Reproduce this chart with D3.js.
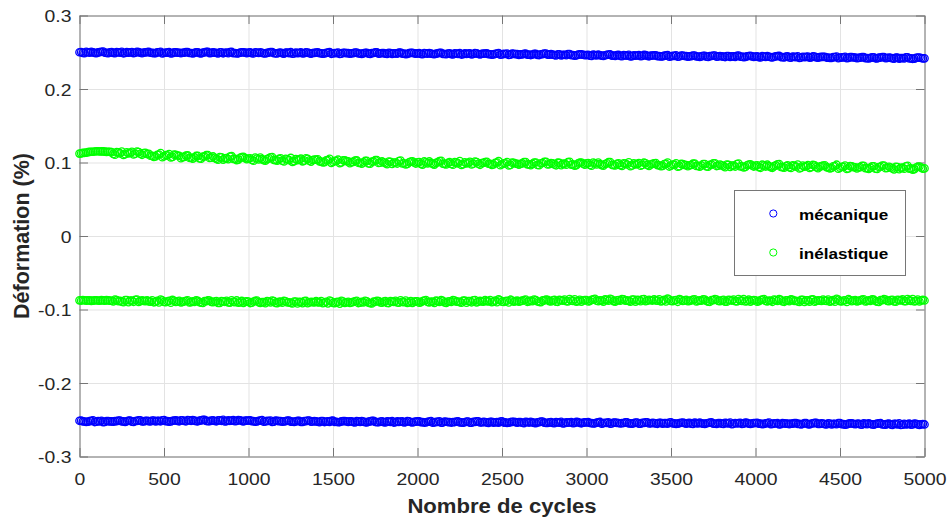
<!DOCTYPE html>
<html><head><meta charset="utf-8">
<script src="https://cdn.jsdelivr.net/npm/d3@7"></script>
<style>
body{margin:0;background:#fff;}
svg{display:block;font-family:"Liberation Sans",Arial,Helvetica,sans-serif;}
</style>
</head><body>
<svg id="chart" width="951" height="522"></svg>
<script>
// sampling interval (cycles) of the logged values
const cycleStep = 10;

// mécanique – maximum of each cycle (%)
const mecaMax = [
0.2500,0.2502,0.2492,0.2488,0.2505,0.2500,0.2495,0.2505,0.2497,0.2491,0.2488,0.2497,0.2501,0.2507,0.2508,0.2493,0.2491,0.2489,0.2498,0.2501,
0.2492,0.2488,0.2502,0.2500,0.2495,0.2507,0.2486,0.2490,0.2501,0.2495,0.2498,0.2503,0.2489,0.2493,0.2505,0.2502,0.2493,0.2487,0.2496,0.2498,
0.2502,0.2504,0.2493,0.2492,0.2487,0.2489,0.2498,0.2500,0.2507,0.2485,0.2490,0.2496,0.2495,0.2502,0.2484,0.2487,0.2499,0.2498,0.2494,0.2493,
0.2488,0.2493,0.2495,0.2502,0.2503,0.2490,0.2490,0.2485,0.2492,0.2500,0.2500,0.2487,0.2485,0.2496,0.2497,0.2504,0.2504,0.2489,0.2491,0.2497,
0.2495,0.2490,0.2485,0.2499,0.2498,0.2486,0.2493,0.2494,0.2488,0.2502,0.2504,0.2489,0.2490,0.2483,0.2486,0.2495,0.2499,0.2500,0.2494,0.2488,
0.2495,0.2497,0.2487,0.2483,0.2500,0.2495,0.2490,0.2500,0.2492,0.2486,0.2483,0.2492,0.2496,0.2502,0.2503,0.2488,0.2486,0.2484,0.2493,0.2496,
0.2486,0.2482,0.2496,0.2494,0.2489,0.2501,0.2480,0.2484,0.2495,0.2489,0.2492,0.2497,0.2483,0.2487,0.2499,0.2496,0.2487,0.2481,0.2490,0.2492,
0.2496,0.2498,0.2487,0.2486,0.2481,0.2483,0.2492,0.2494,0.2501,0.2479,0.2484,0.2490,0.2489,0.2496,0.2478,0.2481,0.2493,0.2492,0.2488,0.2487,
0.2481,0.2486,0.2488,0.2495,0.2496,0.2483,0.2483,0.2478,0.2485,0.2493,0.2493,0.2480,0.2478,0.2489,0.2490,0.2497,0.2497,0.2482,0.2484,0.2490,
0.2487,0.2482,0.2477,0.2491,0.2490,0.2478,0.2485,0.2486,0.2480,0.2494,0.2496,0.2481,0.2482,0.2475,0.2478,0.2487,0.2491,0.2492,0.2486,0.2480,
0.2485,0.2487,0.2477,0.2473,0.2490,0.2485,0.2480,0.2490,0.2482,0.2476,0.2473,0.2482,0.2486,0.2492,0.2493,0.2478,0.2476,0.2474,0.2483,0.2486,
0.2475,0.2471,0.2485,0.2483,0.2478,0.2490,0.2469,0.2473,0.2484,0.2478,0.2481,0.2486,0.2472,0.2476,0.2488,0.2485,0.2476,0.2470,0.2479,0.2481,
0.2483,0.2485,0.2474,0.2473,0.2468,0.2470,0.2479,0.2481,0.2488,0.2466,0.2471,0.2477,0.2476,0.2483,0.2465,0.2468,0.2480,0.2479,0.2475,0.2474,
0.2465,0.2470,0.2472,0.2479,0.2480,0.2467,0.2467,0.2462,0.2469,0.2477,0.2477,0.2464,0.2462,0.2473,0.2474,0.2481,0.2481,0.2466,0.2468,0.2474,
0.2467,0.2462,0.2457,0.2471,0.2470,0.2458,0.2465,0.2466,0.2460,0.2474,0.2476,0.2461,0.2462,0.2455,0.2458,0.2467,0.2471,0.2472,0.2466,0.2460,
0.2462,0.2464,0.2454,0.2450,0.2467,0.2462,0.2457,0.2467,0.2459,0.2453,0.2450,0.2459,0.2463,0.2469,0.2470,0.2455,0.2453,0.2451,0.2460,0.2463,
0.2450,0.2446,0.2460,0.2458,0.2453,0.2465,0.2444,0.2448,0.2459,0.2453,0.2456,0.2461,0.2447,0.2451,0.2463,0.2460,0.2451,0.2445,0.2454,0.2456,
0.2457,0.2459,0.2448,0.2447,0.2442,0.2444,0.2453,0.2455,0.2462,0.2440,0.2445,0.2451,0.2450,0.2457,0.2439,0.2442,0.2454,0.2453,0.2449,0.2448,
0.2440,0.2445,0.2447,0.2454,0.2455,0.2442,0.2442,0.2437,0.2444,0.2452,0.2452,0.2439,0.2437,0.2448,0.2449,0.2456,0.2456,0.2441,0.2443,0.2449,
0.2445,0.2440,0.2435,0.2449,0.2448,0.2436,0.2443,0.2444,0.2438,0.2452,0.2454,0.2439,0.2440,0.2433,0.2436,0.2445,0.2449,0.2450,0.2444,0.2438,
0.2442,0.2444,0.2434,0.2430,0.2447,0.2442,0.2437,0.2447,0.2439,0.2433,0.2430,0.2439,0.2443,0.2449,0.2450,0.2435,0.2433,0.2431,0.2440,0.2443,
0.2430,0.2426,0.2440,0.2438,0.2433,0.2445,0.2424,0.2428,0.2439,0.2433,0.2436,0.2441,0.2427,0.2431,0.2443,0.2440,0.2431,0.2425,0.2434,0.2436,
0.2437,0.2439,0.2428,0.2427,0.2422,0.2424,0.2433,0.2435,0.2442,0.2420,0.2425,0.2431,0.2430,0.2437,0.2419,0.2422,0.2434,0.2433,0.2429,0.2428,
0.2419,0.2424,0.2426,0.2433,0.2434,0.2421,0.2421,0.2416,0.2423,0.2431,0.2431,0.2418,0.2416,0.2427,0.2428,0.2435,0.2435,0.2420,0.2422,0.2428,
0.2423,0.2418,0.2413,0.2427,0.2426,0.2414,0.2421,0.2422,0.2416,0.2430,0.2432,0.2417,0.2418,0.2411,0.2414,0.2423,0.2427,0.2428,0.2422,0.2416,
0.2417];

// mécanique – minimum of each cycle (%)
const mecaMin = [
-0.2514,-0.2512,-0.2523,-0.2524,-0.2529,-0.2527,-0.2518,-0.2516,-0.2509,-0.2531,-0.2526,-0.2520,-0.2521,-0.2514,-0.2532,-0.2529,-0.2517,-0.2518,-0.2522,-0.2523,
-0.2525,-0.2520,-0.2518,-0.2511,-0.2510,-0.2523,-0.2523,-0.2528,-0.2521,-0.2513,-0.2513,-0.2526,-0.2528,-0.2517,-0.2516,-0.2509,-0.2509,-0.2524,-0.2522,-0.2516,
-0.2514,-0.2519,-0.2524,-0.2510,-0.2511,-0.2523,-0.2516,-0.2515,-0.2521,-0.2507,-0.2505,-0.2520,-0.2519,-0.2526,-0.2523,-0.2514,-0.2510,-0.2509,-0.2515,-0.2521,
-0.2509,-0.2507,-0.2517,-0.2521,-0.2504,-0.2509,-0.2514,-0.2504,-0.2512,-0.2518,-0.2521,-0.2512,-0.2508,-0.2502,-0.2501,-0.2516,-0.2518,-0.2520,-0.2511,-0.2508,
-0.2517,-0.2521,-0.2507,-0.2509,-0.2514,-0.2502,-0.2523,-0.2519,-0.2508,-0.2514,-0.2511,-0.2506,-0.2520,-0.2516,-0.2504,-0.2507,-0.2516,-0.2522,-0.2513,-0.2511,
-0.2510,-0.2508,-0.2519,-0.2520,-0.2525,-0.2523,-0.2514,-0.2512,-0.2505,-0.2527,-0.2522,-0.2516,-0.2517,-0.2510,-0.2528,-0.2525,-0.2513,-0.2514,-0.2518,-0.2519,
-0.2527,-0.2522,-0.2520,-0.2513,-0.2512,-0.2525,-0.2525,-0.2530,-0.2523,-0.2515,-0.2515,-0.2528,-0.2530,-0.2519,-0.2518,-0.2511,-0.2511,-0.2526,-0.2524,-0.2518,
-0.2522,-0.2527,-0.2532,-0.2518,-0.2519,-0.2531,-0.2524,-0.2523,-0.2529,-0.2515,-0.2513,-0.2528,-0.2527,-0.2534,-0.2531,-0.2522,-0.2518,-0.2517,-0.2523,-0.2529,
-0.2523,-0.2521,-0.2531,-0.2535,-0.2518,-0.2523,-0.2528,-0.2518,-0.2526,-0.2532,-0.2535,-0.2526,-0.2522,-0.2516,-0.2515,-0.2530,-0.2532,-0.2534,-0.2525,-0.2522,
-0.2532,-0.2536,-0.2522,-0.2524,-0.2529,-0.2517,-0.2538,-0.2534,-0.2523,-0.2529,-0.2526,-0.2521,-0.2535,-0.2531,-0.2519,-0.2522,-0.2531,-0.2537,-0.2528,-0.2526,
-0.2523,-0.2521,-0.2532,-0.2533,-0.2538,-0.2536,-0.2527,-0.2525,-0.2518,-0.2540,-0.2535,-0.2529,-0.2530,-0.2523,-0.2541,-0.2538,-0.2526,-0.2527,-0.2531,-0.2532,
-0.2538,-0.2533,-0.2531,-0.2524,-0.2523,-0.2536,-0.2536,-0.2541,-0.2534,-0.2526,-0.2526,-0.2539,-0.2541,-0.2530,-0.2529,-0.2522,-0.2522,-0.2537,-0.2535,-0.2529,
-0.2532,-0.2537,-0.2542,-0.2528,-0.2529,-0.2541,-0.2534,-0.2533,-0.2539,-0.2525,-0.2523,-0.2538,-0.2537,-0.2544,-0.2541,-0.2532,-0.2528,-0.2527,-0.2533,-0.2539,
-0.2533,-0.2531,-0.2541,-0.2545,-0.2528,-0.2533,-0.2538,-0.2528,-0.2536,-0.2542,-0.2545,-0.2536,-0.2532,-0.2526,-0.2525,-0.2540,-0.2542,-0.2544,-0.2535,-0.2532,
-0.2543,-0.2547,-0.2533,-0.2535,-0.2540,-0.2528,-0.2549,-0.2545,-0.2534,-0.2540,-0.2537,-0.2532,-0.2546,-0.2542,-0.2530,-0.2533,-0.2542,-0.2548,-0.2539,-0.2537,
-0.2535,-0.2533,-0.2544,-0.2545,-0.2550,-0.2548,-0.2539,-0.2537,-0.2530,-0.2552,-0.2547,-0.2541,-0.2542,-0.2535,-0.2553,-0.2550,-0.2538,-0.2539,-0.2543,-0.2544,
-0.2551,-0.2546,-0.2544,-0.2537,-0.2536,-0.2549,-0.2549,-0.2554,-0.2547,-0.2539,-0.2539,-0.2552,-0.2554,-0.2543,-0.2542,-0.2535,-0.2535,-0.2550,-0.2548,-0.2542,
-0.2545,-0.2550,-0.2555,-0.2541,-0.2542,-0.2554,-0.2547,-0.2546,-0.2552,-0.2538,-0.2536,-0.2551,-0.2550,-0.2557,-0.2554,-0.2545,-0.2541,-0.2540,-0.2546,-0.2552,
-0.2545,-0.2543,-0.2553,-0.2557,-0.2540,-0.2545,-0.2550,-0.2540,-0.2548,-0.2554,-0.2557,-0.2548,-0.2544,-0.2538,-0.2537,-0.2552,-0.2554,-0.2556,-0.2547,-0.2544,
-0.2553,-0.2557,-0.2543,-0.2545,-0.2550,-0.2538,-0.2559,-0.2555,-0.2544,-0.2550,-0.2547,-0.2542,-0.2556,-0.2552,-0.2540,-0.2543,-0.2552,-0.2558,-0.2549,-0.2547,
-0.2544,-0.2542,-0.2553,-0.2554,-0.2559,-0.2557,-0.2548,-0.2546,-0.2539,-0.2561,-0.2556,-0.2550,-0.2551,-0.2544,-0.2562,-0.2559,-0.2547,-0.2548,-0.2552,-0.2553,
-0.2559,-0.2554,-0.2552,-0.2545,-0.2544,-0.2557,-0.2557,-0.2562,-0.2555,-0.2547,-0.2547,-0.2560,-0.2562,-0.2551,-0.2550,-0.2543,-0.2543,-0.2558,-0.2556,-0.2550,
-0.2554,-0.2559,-0.2564,-0.2550,-0.2551,-0.2563,-0.2556,-0.2555,-0.2561,-0.2547,-0.2545,-0.2560,-0.2559,-0.2566,-0.2563,-0.2554,-0.2550,-0.2549,-0.2555,-0.2561,
-0.2555,-0.2553,-0.2563,-0.2567,-0.2550,-0.2555,-0.2560,-0.2550,-0.2558,-0.2564,-0.2567,-0.2558,-0.2554,-0.2548,-0.2547,-0.2562,-0.2564,-0.2566,-0.2557,-0.2554,
-0.2565,-0.2569,-0.2555,-0.2557,-0.2562,-0.2550,-0.2571,-0.2567,-0.2556,-0.2562,-0.2559,-0.2554,-0.2568,-0.2564,-0.2552,-0.2555,-0.2564,-0.2570,-0.2561,-0.2559,
-0.2564];

// inélastique – maximum of each cycle (%)
const inelMax = [
0.1121,0.1125,0.1130,0.1132,0.1134,0.1140,0.1145,0.1146,0.1146,0.1150,0.1153,0.1153,0.1150,0.1151,0.1152,0.1148,0.1144,0.1146,0.1145,0.1141,
0.1117,0.1107,0.1142,0.1137,0.1125,0.1148,0.1102,0.1112,0.1139,0.1125,0.1132,0.1145,0.1109,0.1119,0.1149,0.1142,0.1119,0.1105,0.1127,0.1132,
0.1115,0.1119,0.1092,0.1089,0.1077,0.1082,0.1105,0.1109,0.1127,0.1072,0.1085,0.1099,0.1097,0.1115,0.1069,0.1077,0.1107,0.1105,0.1095,0.1092,
0.1059,0.1072,0.1076,0.1094,0.1096,0.1064,0.1064,0.1052,0.1069,0.1089,0.1089,0.1056,0.1052,0.1079,0.1082,0.1099,0.1099,0.1062,0.1066,0.1082,
0.1063,0.1050,0.1038,0.1073,0.1070,0.1040,0.1058,0.1060,0.1046,0.1080,0.1086,0.1048,0.1050,0.1033,0.1040,0.1063,0.1073,0.1076,0.1060,0.1046,
0.1054,0.1058,0.1034,0.1024,0.1066,0.1054,0.1041,0.1066,0.1046,0.1031,0.1024,0.1046,0.1056,0.1071,0.1074,0.1036,0.1031,0.1026,0.1048,0.1056,
0.1024,0.1014,0.1049,0.1044,0.1032,0.1062,0.1009,0.1019,0.1046,0.1032,0.1039,0.1052,0.1016,0.1026,0.1056,0.1049,0.1026,0.1012,0.1034,0.1039,
0.1038,0.1042,0.1015,0.1012,0.1000,0.1005,0.1028,0.1032,0.1050,0.0995,0.1008,0.1022,0.1020,0.1038,0.0992,0.1000,0.1030,0.1028,0.1018,0.1015,
0.0991,0.1004,0.1008,0.1026,0.1028,0.0996,0.0996,0.0984,0.1001,0.1021,0.1021,0.0988,0.0984,0.1011,0.1014,0.1031,0.1031,0.0994,0.0998,0.1014,
0.1003,0.0990,0.0978,0.1013,0.1010,0.0980,0.0998,0.1000,0.0986,0.1020,0.1026,0.0988,0.0990,0.0973,0.0980,0.1003,0.1013,0.1016,0.1000,0.0986,
0.1002,0.1006,0.0982,0.0972,0.1014,0.1002,0.0989,0.1014,0.0994,0.0979,0.0972,0.0994,0.1004,0.1019,0.1022,0.0984,0.0979,0.0974,0.0996,0.1004,
0.0981,0.0971,0.1006,0.1001,0.0989,0.1019,0.0966,0.0976,0.1003,0.0989,0.0996,0.1009,0.0973,0.0983,0.1013,0.1006,0.0983,0.0969,0.0991,0.0996,
0.1006,0.1010,0.0983,0.0980,0.0968,0.0973,0.0996,0.1000,0.1018,0.0963,0.0976,0.0990,0.0988,0.1006,0.0960,0.0968,0.0998,0.0996,0.0986,0.0983,
0.0970,0.0983,0.0987,0.1005,0.1007,0.0975,0.0975,0.0963,0.0980,0.1000,0.1000,0.0967,0.0963,0.0990,0.0993,0.1010,0.1010,0.0973,0.0977,0.0993,
0.0987,0.0974,0.0962,0.0997,0.0994,0.0964,0.0982,0.0984,0.0970,0.1004,0.1010,0.0972,0.0974,0.0957,0.0964,0.0987,0.0997,0.1000,0.0984,0.0970,
0.0987,0.0991,0.0967,0.0957,0.0999,0.0987,0.0974,0.0999,0.0979,0.0964,0.0957,0.0979,0.0989,0.1004,0.1007,0.0969,0.0964,0.0959,0.0981,0.0989,
0.0965,0.0955,0.0990,0.0985,0.0973,0.1003,0.0950,0.0960,0.0987,0.0973,0.0980,0.0993,0.0957,0.0967,0.0997,0.0990,0.0967,0.0953,0.0975,0.0980,
0.0988,0.0992,0.0965,0.0962,0.0950,0.0955,0.0978,0.0982,0.1000,0.0945,0.0958,0.0972,0.0970,0.0988,0.0942,0.0950,0.0980,0.0978,0.0968,0.0965,
0.0949,0.0962,0.0966,0.0984,0.0986,0.0954,0.0954,0.0942,0.0959,0.0979,0.0979,0.0946,0.0942,0.0969,0.0972,0.0989,0.0989,0.0952,0.0956,0.0972,
0.0962,0.0949,0.0937,0.0972,0.0969,0.0939,0.0957,0.0959,0.0945,0.0979,0.0985,0.0947,0.0949,0.0932,0.0939,0.0962,0.0972,0.0975,0.0959,0.0945,
0.0958,0.0962,0.0938,0.0928,0.0970,0.0958,0.0945,0.0970,0.0950,0.0935,0.0928,0.0950,0.0960,0.0975,0.0978,0.0940,0.0935,0.0930,0.0952,0.0960,
0.0935,0.0925,0.0960,0.0955,0.0943,0.0973,0.0920,0.0930,0.0957,0.0943,0.0950,0.0963,0.0927,0.0937,0.0967,0.0960,0.0937,0.0923,0.0945,0.0950,
0.0958,0.0962,0.0935,0.0932,0.0920,0.0925,0.0948,0.0952,0.0970,0.0915,0.0928,0.0942,0.0940,0.0958,0.0912,0.0920,0.0950,0.0948,0.0938,0.0935,
0.0919,0.0932,0.0936,0.0954,0.0956,0.0924,0.0924,0.0912,0.0929,0.0949,0.0949,0.0916,0.0912,0.0939,0.0942,0.0959,0.0959,0.0922,0.0926,0.0942,
0.0932,0.0919,0.0907,0.0942,0.0939,0.0909,0.0927,0.0929,0.0915,0.0949,0.0955,0.0917,0.0919,0.0902,0.0909,0.0932,0.0942,0.0945,0.0929,0.0915,
0.0920];

// inélastique – minimum of each cycle (%)
const inelMin = [
-0.0875,-0.0878,-0.0872,-0.0874,-0.0880,-0.0877,-0.0876,-0.0882,-0.0879,-0.0875,-0.0874,-0.0878,-0.0881,-0.0873,-0.0877,-0.0879,-0.0873,-0.0876,-0.0880,-0.0881,
-0.0889,-0.0866,-0.0871,-0.0887,-0.0884,-0.0893,-0.0900,-0.0873,-0.0873,-0.0900,-0.0878,-0.0880,-0.0895,-0.0869,-0.0866,-0.0896,-0.0887,-0.0877,-0.0882,-0.0886,
-0.0875,-0.0890,-0.0892,-0.0874,-0.0902,-0.0895,-0.0883,-0.0904,-0.0866,-0.0877,-0.0897,-0.0901,-0.0888,-0.0884,-0.0908,-0.0870,-0.0881,-0.0897,-0.0890,-0.0883,
-0.0903,-0.0897,-0.0890,-0.0881,-0.0876,-0.0905,-0.0899,-0.0890,-0.0896,-0.0876,-0.0881,-0.0899,-0.0908,-0.0910,-0.0887,-0.0888,-0.0874,-0.0879,-0.0897,-0.0901,
-0.0891,-0.0886,-0.0909,-0.0911,-0.0886,-0.0890,-0.0895,-0.0881,-0.0904,-0.0906,-0.0875,-0.0895,-0.0900,-0.0877,-0.0908,-0.0902,-0.0884,-0.0909,-0.0893,-0.0888,
-0.0893,-0.0912,-0.0907,-0.0891,-0.0884,-0.0878,-0.0902,-0.0909,-0.0898,-0.0900,-0.0914,-0.0885,-0.0891,-0.0903,-0.0878,-0.0887,-0.0909,-0.0914,-0.0896,-0.0894,
-0.0907,-0.0884,-0.0889,-0.0905,-0.0902,-0.0911,-0.0918,-0.0891,-0.0891,-0.0918,-0.0896,-0.0898,-0.0913,-0.0887,-0.0884,-0.0914,-0.0905,-0.0895,-0.0900,-0.0904,
-0.0887,-0.0902,-0.0904,-0.0886,-0.0914,-0.0907,-0.0895,-0.0916,-0.0878,-0.0889,-0.0909,-0.0913,-0.0900,-0.0896,-0.0920,-0.0882,-0.0893,-0.0909,-0.0902,-0.0895,
-0.0910,-0.0904,-0.0897,-0.0888,-0.0883,-0.0912,-0.0906,-0.0897,-0.0903,-0.0883,-0.0888,-0.0906,-0.0915,-0.0917,-0.0894,-0.0895,-0.0881,-0.0886,-0.0904,-0.0908,
-0.0892,-0.0887,-0.0910,-0.0912,-0.0887,-0.0891,-0.0896,-0.0882,-0.0905,-0.0907,-0.0876,-0.0896,-0.0901,-0.0878,-0.0909,-0.0903,-0.0885,-0.0910,-0.0894,-0.0889,
-0.0888,-0.0907,-0.0902,-0.0886,-0.0879,-0.0873,-0.0897,-0.0904,-0.0893,-0.0895,-0.0909,-0.0880,-0.0886,-0.0898,-0.0873,-0.0882,-0.0904,-0.0909,-0.0891,-0.0889,
-0.0896,-0.0873,-0.0878,-0.0894,-0.0891,-0.0900,-0.0907,-0.0880,-0.0880,-0.0907,-0.0885,-0.0887,-0.0902,-0.0876,-0.0873,-0.0903,-0.0894,-0.0884,-0.0889,-0.0893,
-0.0872,-0.0887,-0.0889,-0.0871,-0.0899,-0.0892,-0.0880,-0.0901,-0.0863,-0.0874,-0.0894,-0.0898,-0.0885,-0.0881,-0.0905,-0.0867,-0.0878,-0.0894,-0.0887,-0.0880,
-0.0893,-0.0887,-0.0880,-0.0871,-0.0866,-0.0895,-0.0889,-0.0880,-0.0886,-0.0866,-0.0871,-0.0889,-0.0898,-0.0900,-0.0877,-0.0878,-0.0864,-0.0869,-0.0887,-0.0891,
-0.0875,-0.0870,-0.0893,-0.0895,-0.0870,-0.0874,-0.0879,-0.0865,-0.0888,-0.0890,-0.0859,-0.0879,-0.0884,-0.0861,-0.0892,-0.0886,-0.0868,-0.0893,-0.0877,-0.0872,
-0.0871,-0.0890,-0.0885,-0.0869,-0.0862,-0.0856,-0.0880,-0.0887,-0.0876,-0.0878,-0.0892,-0.0863,-0.0869,-0.0881,-0.0856,-0.0865,-0.0887,-0.0892,-0.0874,-0.0872,
-0.0881,-0.0858,-0.0863,-0.0879,-0.0876,-0.0885,-0.0892,-0.0865,-0.0865,-0.0892,-0.0870,-0.0872,-0.0887,-0.0861,-0.0858,-0.0888,-0.0879,-0.0869,-0.0874,-0.0878,
-0.0862,-0.0877,-0.0879,-0.0861,-0.0889,-0.0882,-0.0870,-0.0891,-0.0853,-0.0864,-0.0884,-0.0888,-0.0875,-0.0871,-0.0895,-0.0857,-0.0868,-0.0884,-0.0877,-0.0870,
-0.0888,-0.0882,-0.0875,-0.0866,-0.0861,-0.0890,-0.0884,-0.0875,-0.0881,-0.0861,-0.0866,-0.0884,-0.0893,-0.0895,-0.0872,-0.0873,-0.0859,-0.0864,-0.0882,-0.0886,
-0.0874,-0.0869,-0.0892,-0.0894,-0.0869,-0.0873,-0.0878,-0.0864,-0.0887,-0.0889,-0.0858,-0.0878,-0.0883,-0.0860,-0.0891,-0.0885,-0.0867,-0.0892,-0.0876,-0.0871,
-0.0874,-0.0893,-0.0888,-0.0872,-0.0865,-0.0859,-0.0883,-0.0890,-0.0879,-0.0881,-0.0895,-0.0866,-0.0872,-0.0884,-0.0859,-0.0868,-0.0890,-0.0895,-0.0877,-0.0875,
-0.0886,-0.0863,-0.0868,-0.0884,-0.0881,-0.0890,-0.0897,-0.0870,-0.0870,-0.0897,-0.0875,-0.0877,-0.0892,-0.0866,-0.0863,-0.0893,-0.0884,-0.0874,-0.0879,-0.0883,
-0.0865,-0.0880,-0.0882,-0.0864,-0.0892,-0.0885,-0.0873,-0.0894,-0.0856,-0.0867,-0.0887,-0.0891,-0.0878,-0.0874,-0.0898,-0.0860,-0.0871,-0.0887,-0.0880,-0.0873,
-0.0889,-0.0883,-0.0876,-0.0867,-0.0862,-0.0891,-0.0885,-0.0876,-0.0882,-0.0862,-0.0867,-0.0885,-0.0894,-0.0896,-0.0873,-0.0874,-0.0860,-0.0865,-0.0883,-0.0887,
-0.0873,-0.0868,-0.0891,-0.0893,-0.0868,-0.0872,-0.0877,-0.0863,-0.0886,-0.0888,-0.0857,-0.0877,-0.0882,-0.0859,-0.0890,-0.0884,-0.0866,-0.0891,-0.0875,-0.0870,
-0.0877];

const xTicks = [0,500,1000,1500,2000,2500,3000,3500,4000,4500,5000];
const xTickLabels = ["0","500","1000","1500","2000","2500","3000","3500","4000","4500","5000"];
const yTicks = [-0.3,-0.2,-0.1,0,0.1,0.2,0.3];
const yTickLabels = ["-0.3","-0.2","-0.1","0","0.1","0.2","0.3"];
const seriesNames = ["mécanique","inélastique"];
const seriesColors = ["#0000ff","#00ff00"];
const xLabel = "Nombre de cycles";
const yLabel = "Déformation (%)";

// ---------- layout ----------
const W = 951, H = 522;
const X0 = 79.5, X1 = 924.5, Y0 = 15.5, Y1 = 456.5;
const TICK = 8.5, SX = 1.14;
const axisColor = "#767676", textColor = "#262626", gridColor = "#e3e3e3";

const x = d3.scaleLinear().domain([0, 5000]).range([X0, X1]);
const y = d3.scaleLinear().domain([-0.3, 0.3]).range([Y1, Y0]);

const svg = d3.select("#chart");
svg.append("rect").attr("width", W).attr("height", H).attr("fill", "#fff");

// grid
svg.append("g").attr("transform", `translate(0,${Y1})`)
  .call(d3.axisBottom(x).tickValues(xTicks).tickSize(-(Y1 - Y0)).tickFormat(""))
  .call(g => { g.select(".domain").remove(); g.selectAll("line").attr("stroke", gridColor); });
svg.append("g").attr("transform", `translate(${X0},0)`)
  .call(d3.axisLeft(y).tickValues(yTicks).tickSize(-(X1 - X0)).tickFormat(""))
  .call(g => { g.select(".domain").remove(); g.selectAll("line").attr("stroke", gridColor); });

function styleAxis(g) {
  g.attr("font-family", null).attr("font-size", null);
  g.select(".domain").attr("stroke", axisColor);
  g.selectAll(".tick line").attr("stroke", axisColor);
  g.selectAll(".tick text").attr("fill", textColor).style("font-size", "17px");
}

// frame axes
svg.append("g").attr("transform", `translate(0,${Y0})`)
  .call(d3.axisTop(x).tickValues(xTicks).tickSizeInner(-TICK).tickSizeOuter(0).tickFormat(""))
  .call(styleAxis);
svg.append("g").attr("transform", `translate(${X1},0)`)
  .call(d3.axisRight(y).tickValues(yTicks).tickSizeInner(-TICK).tickSizeOuter(0).tickFormat(""))
  .call(styleAxis);
svg.append("g").attr("transform", `translate(0,${Y1})`)
  .call(d3.axisBottom(x).tickValues(xTicks).tickSizeInner(-TICK).tickSizeOuter(0)
    .tickFormat((d, i) => xTickLabels[i]))
  .call(styleAxis)
  .call(g => g.selectAll(".tick text").attr("y", 28.5).attr("dy", 0)
    .attr("transform", `scale(${SX},1)`));
svg.append("g").attr("transform", `translate(${X0},0)`)
  .call(d3.axisLeft(y).tickValues(yTicks).tickSizeInner(-TICK).tickSizeOuter(0)
    .tickFormat((d, i) => yTickLabels[i]))
  .call(styleAxis)
  .call(g => g.selectAll(".tick text").attr("x", -8 / SX).attr("dy", "0.36em")
    .attr("transform", `scale(${SX},1)`));

// data (open circle markers, drawn in cycle order)
const series = [
  {vals: mecaMax, c: 0}, {vals: mecaMin, c: 0},
  {vals: inelMax, c: 1}, {vals: inelMin, c: 1}
];
const R = 3.7;
series.forEach(s => {
  svg.append("g").selectAll("circle").data(s.vals).join("circle")
    .attr("cx", (d, i) => x(i * cycleStep))
    .attr("cy", d => y(d))
    .attr("r", R)
    .attr("fill", "none")
    .attr("stroke", seriesColors[s.c])
    .attr("stroke-width", 1.3);
});

// axis labels
svg.append("text")
  .attr("transform", `translate(${(X0 + X1) / 2},513) scale(${SX},1)`)
  .attr("text-anchor", "middle").attr("font-weight", "bold")
  .attr("font-size", "19.4px").attr("fill", textColor).text(xLabel);
svg.append("text")
  .attr("transform", `translate(28.5,${(Y0 + Y1) / 2}) rotate(-90)`)
  .attr("text-anchor", "middle").attr("font-weight", "bold")
  .attr("font-size", "21.5px").attr("fill", textColor).text(yLabel);

// legend
const lg = svg.append("g");
lg.append("rect").attr("x", 734.5).attr("y", 190.5).attr("width", 171).attr("height", 85)
  .attr("fill", "#fff").attr("stroke", axisColor).attr("stroke-width", 1);
const legendY = [213.5, 252.5];
seriesNames.forEach((name, i) => {
  lg.append("circle").attr("cx", 773.3).attr("cy", legendY[i]).attr("r", 3.6)
    .attr("fill", "none").attr("stroke", seriesColors[i]).attr("stroke-width", 1);
  lg.append("text")
    .attr("transform", `translate(799,${legendY[i] + 6}) scale(${SX},1)`)
    .attr("font-weight", "bold").attr("font-size", "15px").attr("fill", "#000")
    .text(name);
});
</script>
</body></html>
